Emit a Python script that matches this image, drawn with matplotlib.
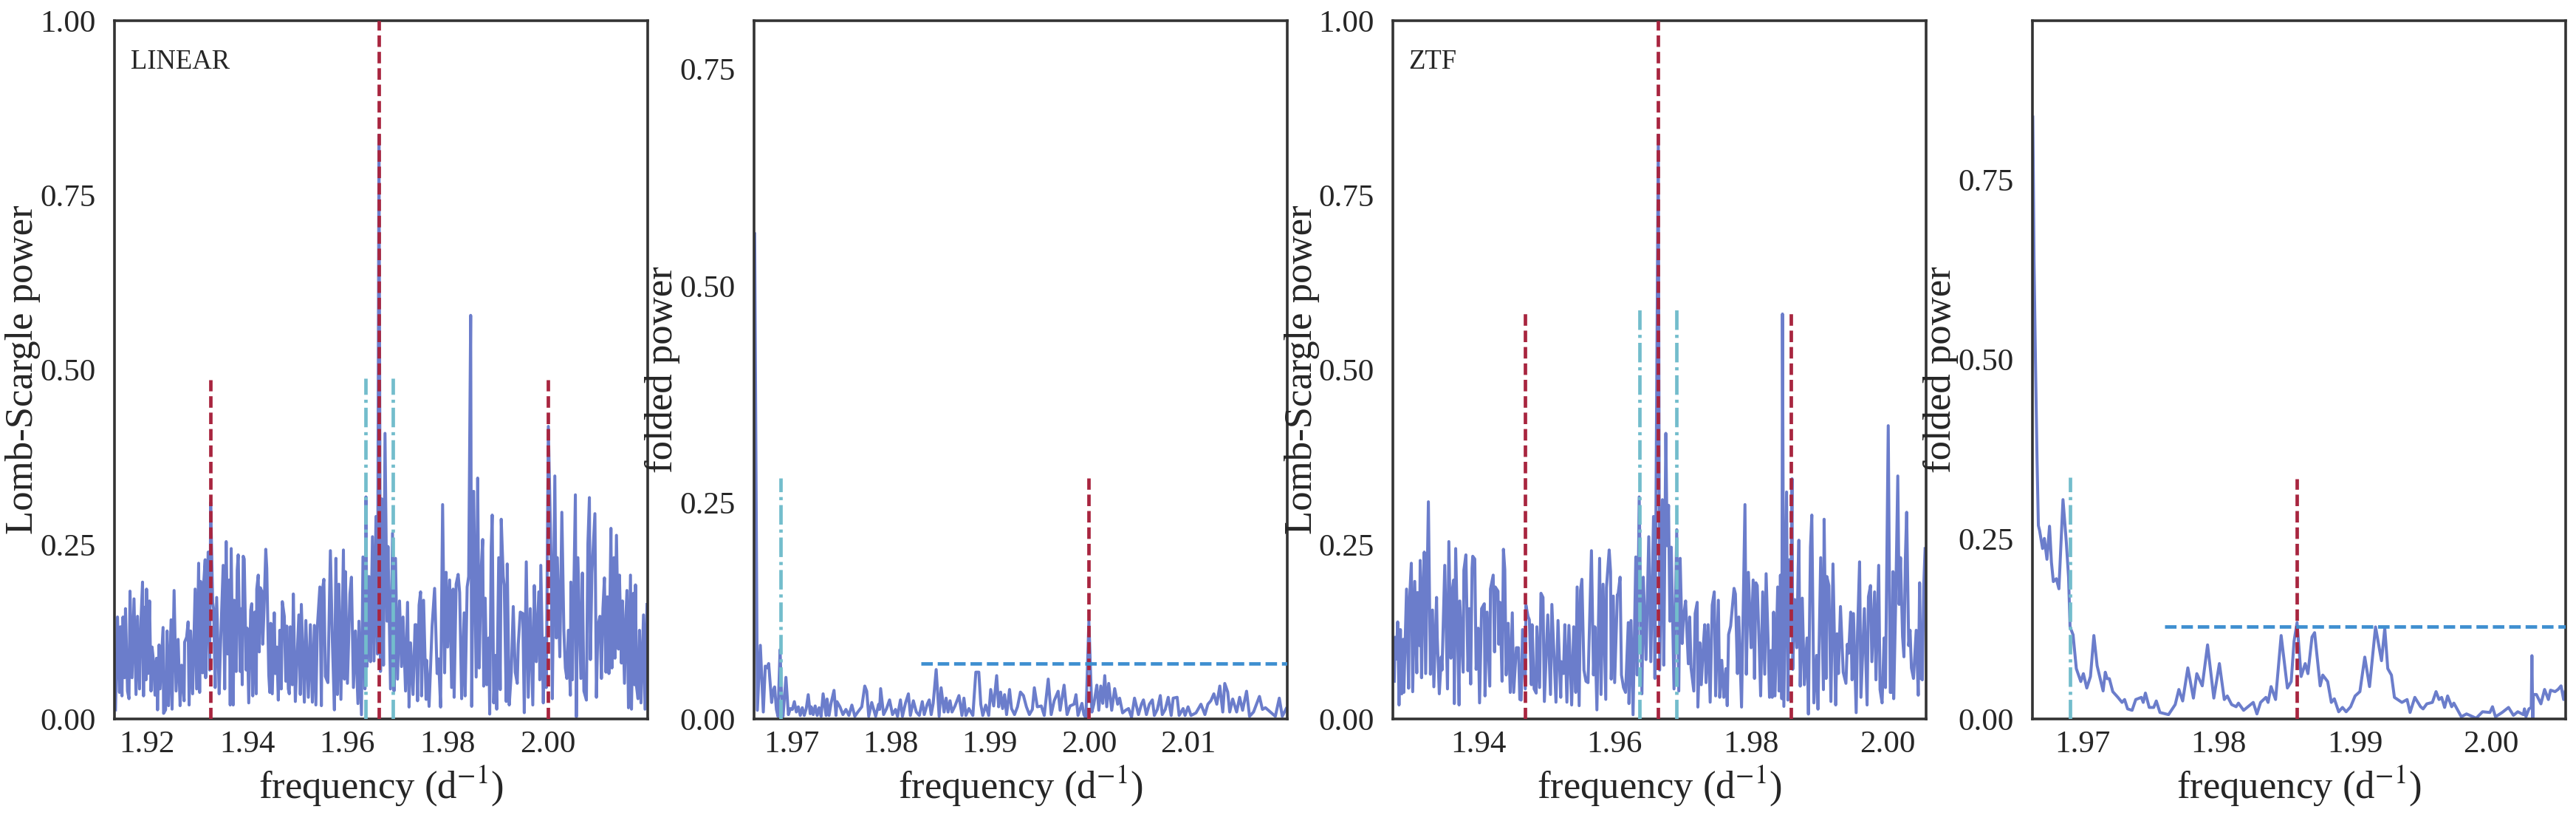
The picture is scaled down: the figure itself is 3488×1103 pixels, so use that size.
import matplotlib
matplotlib.use("Agg")
import matplotlib.pyplot as plt

plt.rcParams["font.family"] = ["Liberation Serif", "DejaVu Serif"]
plt.rcParams["mathtext.fontset"] = "stix"

# values
linear_ls_freq = [
    1.9137, 1.9141, 1.9145, 1.9147, 1.9150, 1.9152, 1.9155, 1.9157, 1.9161, 1.9164, 1.9166, 1.9170, 1.9174, 1.9178, 1.9181,
    1.9185, 1.9188, 1.9191, 1.9193, 1.9195, 1.9198, 1.9199, 1.9202, 1.9205, 1.9208, 1.9210, 1.9213, 1.9216, 1.9219, 1.9221,
    1.9224, 1.9226, 1.9232, 1.9233, 1.9237, 1.9240, 1.9243, 1.9248, 1.9250, 1.9254, 1.9258, 1.9262, 1.9266, 1.9269, 1.9274,
    1.9275, 1.9279, 1.9282, 1.9284, 1.9287, 1.9291, 1.9296, 1.9299, 1.9303, 1.9305, 1.9307, 1.9311, 1.9312, 1.9316, 1.9317,
    1.9322, 1.9325, 1.9327, 1.9331, 1.9333, 1.9336, 1.9339, 1.9344, 1.9346, 1.9352, 1.9355, 1.9358, 1.9361, 1.9364, 1.9366,
    1.9368, 1.9372, 1.9374, 1.9378, 1.9380, 1.9382, 1.9386, 1.9388, 1.9390, 1.9392, 1.9394, 1.9398, 1.9400, 1.9403, 1.9407,
    1.9409, 1.9411, 1.9415, 1.9418, 1.9419, 1.9422, 1.9424, 1.9426, 1.9429, 1.9431, 1.9434, 1.9437, 1.9439, 1.9443, 1.9445,
    1.9447, 1.9450, 1.9454, 1.9456, 1.9459, 1.9462, 1.9465, 1.9468, 1.9470, 1.9474, 1.9477, 1.9479, 1.9482, 1.9484, 1.9486,
    1.9490, 1.9492, 1.9496, 1.9503, 1.9506, 1.9508, 1.9514, 1.9517, 1.9522, 1.9526, 1.9530, 1.9534, 1.9537, 1.9540, 1.9545,
    1.9548, 1.9550, 1.9553, 1.9556, 1.9561, 1.9566, 1.9570, 1.9574, 1.9577, 1.9580, 1.9583, 1.9587, 1.9592, 1.9594, 1.9596,
    1.9600, 1.9605, 1.9608, 1.9612, 1.9616, 1.9621, 1.9623, 1.9628, 1.9631, 1.9635, 1.9637, 1.9639, 1.9643, 1.9646, 1.9650,
    1.9653, 1.9657, 1.9660, 1.9663, 1.9666, 1.9669, 1.9672, 1.9675, 1.9679, 1.9681, 1.9686, 1.9690, 1.9693, 1.9696, 1.9700,
    1.9704, 1.9708, 1.9711, 1.9716, 1.9720, 1.9723, 1.9726, 1.9731, 1.9735, 1.9737, 1.9740, 1.9743, 1.9746, 1.9748, 1.9752,
    1.9757, 1.9758, 1.9763, 1.9769, 1.9774, 1.9779, 1.9782, 1.9786, 1.9790, 1.9794, 1.9797, 1.9800, 1.9804, 1.9808, 1.9811,
    1.9813, 1.9817, 1.9821, 1.9824, 1.9828, 1.9833, 1.9835, 1.9839, 1.9842, 1.9846, 1.9848, 1.9852, 1.9857, 1.9860, 1.9863,
    1.9867, 1.9870, 1.9872, 1.9875, 1.9878, 1.9882, 1.9884, 1.9887, 1.9889, 1.9892, 1.9895, 1.9898, 1.9902, 1.9905, 1.9907,
    1.9911, 1.9913, 1.9917, 1.9919, 1.9923, 1.9927, 1.9931, 1.9935, 1.9939, 1.9941, 1.9945, 1.9950, 1.9953, 1.9957, 1.9961,
    1.9965, 1.9970, 1.9973, 1.9977, 1.9982, 1.9984, 1.9986, 1.9991, 1.9994, 1.9997, 2.0001, 2.0007, 2.0009, 2.0014, 2.0017,
    2.0019, 2.0024, 2.0028, 2.0032, 2.0035, 2.0038, 2.0041, 2.0045, 2.0046, 2.0049, 2.0055, 2.0057, 2.0060, 2.0066, 2.0069,
    2.0072, 2.0077, 2.0080, 2.0083, 2.0085, 2.0088, 2.0094, 2.0097, 2.0100, 2.0104, 2.0107, 2.0110, 2.0113, 2.0116, 2.0119,
    2.0122, 2.0126, 2.0128, 2.0132, 2.0134, 2.0137, 2.0141, 2.0143, 2.0147, 2.0149, 2.0153, 2.0156, 2.0158, 2.0161, 2.0165,
    2.0167, 2.0171, 2.0173, 2.0175, 2.0177, 2.0180, 2.0183, 2.0186, 2.0191, 2.0194, 2.0198,
]
linear_ls_power = [
    .013, .146, .038, .132, .033, .146, .059, .158, .040, .029, .183, .059, .172, .035, .147,
    .043, .142, .196, .033, .160, .056, .186, .065, .169, .040, .103, .082, .034, .087, .013,
    .106, .043, .131, .008, .013, .126, .019, .142, .014, .184, .040, .114, .019, .077, .026,
    .110, .117, .139, .020, .126, .036, .186, .043, .223, .038, .197, .066, .181, .228, .059,
    .239, .070, .310, .167, .157, .045, .174, .036, .091, .220, .043, .254, .093, .199, .020,
    .244, .020, .170, .068, .213, .235, .068, .158, .049, .233, .229, .070, .130, .023, .156,
    .165, .033, .153, .036, .186, .206, .096, .188, .183, .107, .167, .243, .216, .063, .038,
    .137, .036, .152, .065, .103, .027, .127, .043, .168, .147, .054, .133, .043, .036, .132,
    .049, .179, .025, .149, .035, .164, .024, .141, .031, .135, .024, .134, .020, .132, .189,
    .019, .184, .200, .061, .052, .241, .110, .013, .230, .035, .193, .028, .242, .057, .211,
    .051, .179, .203, .045, .126, .022, .140, .006, .232, .043, .318, .075, .204, .082, .261,
    .083, .290, .093, .836, .068, .315, .077, .409, .140, .247, .043, .266, .040, .230, .057,
    .169, .075, .146, .040, .167, .017, .109, .035, .135, .135, .026, .163, .182, .033, .170,
    .028, .084, .018, .133, .187, .065, .086, .017, .307, .066, .210, .103, .199, .045, .186,
    .031, .193, .207, .181, .029, .152, .033, .189, .204, .578, .018, .326, .060, .345, .073,
    .215, .257, .047, .173, .049, .116, .007, .246, .292, .023, .091, .014, .231, .042, .286,
    .204, .191, .025, .222, .020, .065, .161, .067, .051, .107, .153, .151, .009, .225, .031,
    .158, .020, .191, .082, .182, .056, .220, .023, .116, .045, .419, .211, .029, .348, .116,
    .231, .089, .296, .127, .073, .058, .127, .034, .196, .056, .321, .003, .231, .058, .209,
    .040, .027, .251, .317, .085, .209, .294, .031, .133, .147, .058, .158, .202, .067, .175,
    .065, .273, .073, .231, .087, .263, .100, .206, .080, .169, .051, .149, .184, .016, .206,
    .014, .180, .049, .192, .047, .029, .127, .023, .149, .014, .164,
]

linear_fold_freq = [
    1.9663, 1.96657, 1.96687, 1.96717, 1.96737, 1.96755, 1.96771, 1.96801, 1.96815, 1.96831, 1.96849, 1.96865, 1.96886, 1.96901, 1.96916,
    1.96945, 1.9697, 1.9699, 1.9701, 1.9703, 1.9705, 1.9707, 1.9709, 1.9711, 1.9713, 1.9715, 1.9717, 1.9719, 1.9720,
    1.9722, 1.9724, 1.9726, 1.9728, 1.9730, 1.9732, 1.9735, 1.9736, 1.9738, 1.9740, 1.9743, 1.9745, 1.9746, 1.9749, 1.9752,
    1.9755, 1.9758, 1.9761, 1.9764, 1.9767, 1.9771, 1.9774, 1.9776, 1.9778, 1.9781, 1.9785, 1.9788, 1.9789, 1.9790, 1.9793,
    1.9796, 1.9799, 1.9802, 1.9805, 1.9807, 1.9810, 1.9812, 1.9815, 1.9818, 1.9820, 1.9823, 1.9826, 1.9829, 1.9832, 1.9834,
    1.9837, 1.9839, 1.9841, 1.9843, 1.9846, 1.9849, 1.9851, 1.9854, 1.9856, 1.9858, 1.9860, 1.9862, 1.9865, 1.9869, 1.9872,
    1.9874, 1.9876, 1.9879, 1.9883, 1.9886, 1.9889, 1.9891, 1.9893, 1.9896, 1.9899, 1.9901, 1.9904, 1.9907, 1.9909, 1.9911,
    1.9913, 1.9915, 1.9917, 1.9920, 1.9922, 1.9925, 1.9928, 1.9931, 1.9934, 1.9937, 1.9940, 1.9943, 1.9945, 1.9948, 1.9952,
    1.9955, 1.9959, 1.9962, 1.9965, 1.9969, 1.9971, 1.9975, 1.9978, 1.9981, 1.9985, 1.9987, 1.9989, 1.9993, 1.9995, 1.9997,
    2.0000, 2.0003, 2.0005, 2.0008, 2.0010, 2.0012, 2.0014, 2.0016, 2.0018, 2.0020, 2.0023, 2.0026, 2.0029, 2.0031, 2.0034,
    2.0037, 2.0040, 2.0043, 2.0046, 2.0050, 2.0053, 2.0055, 2.0058, 2.0061, 2.0064, 2.0066, 2.0069, 2.0072, 2.0074, 2.0077,
    2.0080, 2.0083, 2.0085, 2.0089, 2.0091, 2.0095, 2.0097, 2.0100, 2.0103, 2.0108, 2.0113, 2.0117, 2.0120, 2.0123, 2.0126,
    2.0129, 2.0132, 2.0135, 2.0137, 2.0140, 2.0142, 2.0145, 2.0149, 2.0152, 2.0155, 2.0159, 2.0162, 2.0166, 2.0172, 2.0175,
    2.0178, 2.0183, 2.0188, 2.0192, 2.0195, 2.0199,
]
linear_fold_power = [
    .56, .010, .085, .008, .061, .059, .064, .019, .032, .037, .011, .003, .080, .027, .003,
    .048, .005, .012, .011, .020, .008, .014, .004, .013, .004, .012, .028, .006, .014,
    .005, .015, .004, .013, .003, .029, .004, .023, .004, .018, .033, .004, .020, .014, .005,
    .011, .004, .016, .003, .008, .014, .038, .032, .003, .019, .003, .017, .011, .035, .005,
    .012, .022, .005, .011, .003, .022, .003, .018, .029, .004, .021, .008, .004, .020, .005,
    .017, .022, .005, .018, .057, .003, .036, .008, .024, .008, .021, .008, .015, .027, .004,
    .024, .004, .012, .004, .054, .054, .017, .004, .016, .004, .034, .015, .050, .014, .031,
    .012, .028, .005, .034, .012, .005, .014, .031, .027, .014, .005, .011, .036, .014, .015,
    .004, .046, .005, .021, .032, .010, .039, .005, .015, .017, .028, .004, .018, .005, .001,
    .113, .008, .017, .039, .010, .038, .018, .050, .014, .041, .010, .035, .017, .024, .007,
    .010, .012, .002, .024, .005, .017, .022, .005, .017, .022, .004, .011, .027, .005, .011,
    .025, .004, .024, .025, .004, .012, .004, .014, .004, .007, .017, .005, .017, .021, .029,
    .017, .038, .008, .041, .031, .008, .023, .008, .025, .010, .032, .003, .008, .026, .011,
    .013, .008, .003, .024, .003, .012,
]

ztf_ls_freq = [
    1.9277, 1.9278, 1.9280, 1.9282, 1.9284, 1.9286, 1.9288, 1.9290, 1.9291, 1.9295, 1.9298, 1.9299, 1.9302, 1.9304, 1.9307,
    1.9310, 1.9311, 1.9314, 1.9315, 1.9317, 1.9319, 1.9321, 1.9323, 1.9327, 1.9330, 1.9333, 1.9335, 1.9339, 1.9340, 1.9343,
    1.9346, 1.9347, 1.9351, 1.9355, 1.9357, 1.9360, 1.9362, 1.9364, 1.9365, 1.9367, 1.9372, 1.9373, 1.9378, 1.9379, 1.9382,
    1.9385, 1.9387, 1.9389, 1.9391, 1.9392, 1.9395, 1.9397, 1.9400, 1.9402, 1.9405, 1.9409, 1.9410, 1.9413, 1.9417, 1.9418,
    1.9422, 1.9424, 1.9425, 1.9429, 1.9430, 1.9432, 1.9435, 1.9437, 1.9439, 1.9441, 1.9444, 1.9447, 1.9450, 1.9452, 1.9456,
    1.9459, 1.9461, 1.9463, 1.9465, 1.9469, 1.9470, 1.9473, 1.9475, 1.9478, 1.9479, 1.9482, 1.9485, 1.9486, 1.9490, 1.9492,
    1.9495, 1.9497, 1.9502, 1.9506, 1.9508, 1.9514, 1.9517, 1.9521, 1.9522, 1.9525, 1.9527, 1.9530, 1.9533, 1.9537,
    1.9540, 1.9543, 1.9545, 1.9548, 1.9550, 1.9552, 1.9555, 1.9558, 1.9561, 1.9566, 1.9569, 1.9571, 1.9574, 1.9578, 1.9580,
    1.9583, 1.9587, 1.9588, 1.9592, 1.9594, 1.9595, 1.9598, 1.9600, 1.9604, 1.9605, 1.9608, 1.9610, 1.9613, 1.9616, 1.9620,
    1.9621, 1.9624, 1.9627, 1.9631, 1.9633, 1.9636, 1.9640, 1.9642, 1.9646, 1.9650, 1.9653, 1.9657, 1.9659, 1.9664, 1.9666,
    1.9670, 1.9672, 1.9675, 1.9677, 1.9679, 1.9681, 1.9683, 1.9687, 1.9691, 1.9694, 1.9696, 1.9699, 1.9701, 1.9704, 1.9708,
    1.9710, 1.9712, 1.9716, 1.9718, 1.9721, 1.9722, 1.9725, 1.9727, 1.9730, 1.9732, 1.9734, 1.9737, 1.9740, 1.9743, 1.9746,
    1.9748, 1.9752, 1.9754, 1.9757, 1.9760, 1.9763, 1.9765, 1.9767, 1.9770, 1.9775, 1.9777, 1.9780, 1.9782, 1.9784, 1.9786,
    1.9791, 1.9793, 1.9796, 1.9800, 1.9803, 1.9805, 1.9807, 1.9809, 1.9812, 1.9814, 1.9817, 1.9820, 1.9822, 1.9825, 1.9827,
    1.9829, 1.9831, 1.9833, 1.9835, 1.9839, 1.9841, 1.9843, 1.9845, 1.9846, 1.9848, 1.9852, 1.9854, 1.9856, 1.9858, 1.9860,
    1.9861, 1.9864, 1.9867, 1.9869, 1.9870, 1.9872, 1.9875, 1.9878, 1.9882, 1.9884, 1.9887, 1.9889, 1.9892, 1.9896, 1.9898,
    1.9902, 1.9906, 1.9907, 1.9910, 1.9911, 1.9914, 1.9917, 1.9920, 1.9924, 1.9926, 1.9928, 1.9931, 1.9935, 1.9939, 1.9941,
    1.9943, 1.9946, 1.9948, 1.9950, 1.9954, 1.9956, 1.9959, 1.9961, 1.9966, 1.9970, 1.9972, 1.9975, 1.9977, 1.9981, 1.9983,
    1.9987, 1.9989, 1.9992, 1.9995, 1.9997, 2.0001, 2.0004, 2.0006, 2.0008, 2.0009, 2.0012, 2.0015, 2.0017, 2.0019, 2.0022,
    2.0024, 2.0026, 2.0028, 2.0031, 2.0033, 2.0035, 2.0038, 2.0042, 2.0045, 2.0047, 2.0049, 2.0051, 2.0053, 2.0055,
]
ztf_ls_power = [
    .054, .117, .086, .139, .020, .128, .036, .114, .038, .186, .044, .162, .223, .039, .197,
    .066, .181, .105, .227, .059, .184, .239, .065, .311, .064, .156, .046, .174, .117, .036,
    .089, .070, .220, .043, .254, .087, .184, .199, .022, .244, .020, .169, .067, .213, .235,
    .069, .158, .050, .216, .233, .229, .071, .130, .023, .158, .165, .033, .153, .047, .186,
    .206, .096, .189, .183, .107, .167, .054, .243, .214, .063, .137, .038, .152, .038, .102,
    .102, .028, .027, .128, .043, .163, .147, .142, .049, .135, .043, .037, .132, .045, .180,
    .174, .025, .149, .035, .164, .024, .141, .031, .082, .065, .135, .024, .134, .020,
    .132, .038, .189, .019, .184, .200, .070, .054, .052, .241, .063, .132, .013, .230, .035,
    .193, .028, .188, .242, .211, .057, .176, .052, .178, .178, .203, .063, .045, .038, .138,
    .022, .141, .006, .232, .063, .318, .036, .203, .085, .261, .082, .290, .058, .836, .070,
    .314, .077, .409, .248, .306, .140, .246, .043, .271, .040, .230, .108, .146, .169, .079,
    .146, .073, .040, .151, .167, .017, .109, .049, .105, .135, .052, .135, .024, .163, .182,
    .033, .170, .031, .084, .031, .072, .019, .121, .133, .187, .179, .065, .146, .082, .017,
    .307, .064, .210, .102, .199, .058, .195, .191, .102, .033, .182, .064, .208, .109, .031,
    .098, .031, .153, .033, .189, .040, .206, .029, .580, .018, .325, .027, .228, .124, .344,
    .071, .171, .102, .217, .256, .047, .173, .049, .116, .007, .246, .292, .023, .091, .014,
    .231, .042, .286, .058, .204, .191, .025, .222, .020, .122, .065, .161, .067, .051, .107,
    .094, .153, .056, .151, .009, .124, .225, .031, .158, .020, .175, .191, .082, .182, .056,
    .220, .042, .023, .116, .045, .420, .038, .038, .211, .029, .171, .348, .164, .231, .118,
    .089, .226, .296, .105, .127, .073, .058, .127, .034, .195, .058, .056, .189, .244,
]

ztf_fold_freq = [
    1.96632, 1.96641, 1.96652, 1.96663, 1.96673, 1.96682, 1.96704, 1.96717, 1.96736, 1.96755, 1.96769, 1.96783, 1.96805, 1.96824, 1.96854,
    1.96878, 1.96895, 1.96906, 1.96928, 1.96952, 1.96985, 1.97004, 1.97029, 1.97056, 1.97081, 1.97105, 1.97149, 1.97165, 1.97179, 1.97195,
    1.97220, 1.97258, 1.97288, 1.97307, 1.97329, 1.97362, 1.97389, 1.97430, 1.97444, 1.97460, 1.97488, 1.97521, 1.97540, 1.97567, 1.97630,
    1.97679, 1.97706, 1.97734, 1.97772, 1.97813, 1.97838, 1.97878, 1.97917, 1.97963, 1.98004, 1.98040, 1.98062, 1.98094, 1.98127, 1.98144,
    1.98182, 1.98253, 1.98280, 1.98307, 1.98346, 1.98362, 1.98384, 1.98417, 1.98458, 1.98504, 1.98532, 1.98553, 1.98575, 1.98605, 1.98635,
    1.98655, 1.98685, 1.98704, 1.98745, 1.98764, 1.98800, 1.98827, 1.98849, 1.98881, 1.98909, 1.98936, 1.98969, 1.99002, 1.99037, 1.99073,
    1.99108, 1.99152, 1.99196, 1.99220, 1.99242, 1.99269, 1.99291, 1.99346, 1.99384, 1.99406, 1.99441, 1.99483, 1.99502, 1.99529, 1.99570,
    1.99597, 1.99619, 1.99638, 1.99660, 1.99682, 1.99712, 1.99728, 1.99783, 1.99821, 1.99892, 1.99939, 1.99993, 2.00012, 2.00034, 2.00083,
    2.00130, 2.00166, 2.00198, 2.00239, 2.00247, 2.00258, 2.00280, 2.00297, 2.00302, 2.00308, 2.00313, 2.00335, 2.00368, 2.00395, 2.00423,
    2.00439, 2.00472, 2.00494, 2.00516, 2.00535, 2.00546,
]
ztf_fold_power = [
    .837, .638, .493, .363, .269, .262, .237, .251, .222, .268, .218, .191, .195, .181, .305,
    .247, .197, .128, .117, .070, .052, .063, .043, .059, .116, .074, .039, .065, .056, .056,
    .038, .030, .023, .027, .014, .012, .027, .030, .023, .036, .016, .016, .025, .009, .006,
    .020, .041, .025, .071, .029, .063, .046, .103, .029, .077, .027, .032, .020, .017, .022,
    .012, .023, .007, .023, .030, .023, .045, .027, .116, .043, .052, .108, .134, .059, .077,
    .063, .114, .120, .046, .061, .052, .023, .028, .010, .016, .010, .017, .032, .038, .086,
    .045, .128, .081, .126, .070, .061, .030, .023, .027, .009, .030, .017, .014, .021, .023,
    .038, .027, .030, .016, .032, .017, .022, .003, .007, .001, .010, .009, .017, .003, .009,
    .016, .005, .010, .006, .014, .003, .014, .016, .088, .000, .034, .034, .021, .041, .027,
    .040, .038, .041, .046, .027, .038,
]

x_ranges = [(1.9135, 2.0200), (1.9662, 2.0200), (1.9275, 2.0057), (1.96627, 2.0055)]
y_tops = [1.0, 0.806, 1.0, 0.971]
x_ticks = [[1.92, 1.94, 1.96, 1.98, 2.00], [1.97, 1.98, 1.99, 2.00, 2.01], [1.94, 1.96, 1.98, 2.00], [1.97, 1.98, 1.99, 2.00]]
y_ticks = [[0, .25, .5, .75, 1.0], [0, .25, .5, .75], [0, .25, .5, .75, 1.0], [0, .25, .5, .75]]
y_labels = ["Lomb-Scargle power", "folded power", "Lomb-Scargle power", "folded power"]
survey_names = ["LINEAR", None, "ZTF", None]

freqs = [linear_ls_freq, linear_fold_freq, ztf_ls_freq, ztf_fold_freq]
powers = [linear_ls_power, linear_fold_power, ztf_ls_power, ztf_fold_power]

# (frequency, top of the line) for each marker
red_lines = [
    [(1.9663, 1.0), (1.9326, 0.486), (2.0000, 0.486)],
    [(2.0000, 0.278)],
    [(1.9664, 1.0), (1.9469, 0.586), (1.9858, 0.586)],
    [(1.98575, 0.334)],
]
cyan_lines = [
    [(1.96365, 0.488), (1.9691, 0.488)],
    [(1.96894, 0.278)],
    [(1.9636, 0.587), (1.9691, 0.587)],
    [(1.96906, 0.336)],
]
# (start frequency, level) of the blue threshold
thresholds = [None, (1.98306, 0.064), None, (1.97603, 0.128)]

BLUE = "#6b7dcb"
RED = "#a8253f"
CYAN = "#73bdcc"
THRESH = "#3e8fd0"
INK = "#262626"

fig, axes = plt.subplots(1, 4, figsize=(17.44, 5.515), dpi=200)
fig.subplots_adjust(left=155 / 3488, right=3474 / 3488, top=1 - 28 / 1103, bottom=1 - 973 / 1103, wspace=143 / 722)

for i, ax in enumerate(axes):
    ax.plot(freqs[i], powers[i], color=BLUE, lw=1.45, zorder=2)
    for f, top in cyan_lines[i]:
        ax.plot([f, f], [0, top], color=CYAN, lw=1.7, ls=(0, (5.6, 1.4, 0.9, 1.4)), zorder=3)
    for f, top in red_lines[i]:
        ax.plot([f, f], [0, top], color=RED, lw=1.7, ls=(0, (3.3, 1.4)), zorder=4)
    if thresholds[i] is not None:
        start, level = thresholds[i]
        ax.plot([start, x_ranges[i][1]], [level, level], color=THRESH, lw=1.7, ls=(0, (3.3, 1.4)), zorder=5)

    ax.set_xlim(*x_ranges[i])
    ax.set_ylim(0, y_tops[i])
    ax.set_xticks(x_ticks[i])
    ax.set_xticklabels(["%.2f" % t for t in x_ticks[i]])
    ax.set_yticks(y_ticks[i])
    ax.set_yticklabels(["%.2f" % t for t in y_ticks[i]])
    ax.tick_params(axis="x", length=0, labelsize=15.5, labelcolor=INK, pad=5.5)
    ax.tick_params(axis="y", length=0, labelsize=15.5, labelcolor=INK, pad=9)
    ax.set_xlabel("frequency (d$^{-1}$)", fontsize=19, color=INK, va="center")
    ax.set_ylabel(y_labels[i], fontsize=19, color=INK, va="center")
    ax.xaxis.set_label_coords(0.5, -0.095)
    ax.yaxis.set_label_coords(-0.171, 0.5)
    for spine in ax.spines.values():
        spine.set_color("#333333")
        spine.set_linewidth(1.3)
    if survey_names[i]:
        ax.text(0.03, 0.941, survey_names[i], transform=ax.transAxes, fontsize=13.2, color=INK, va="center")

fig.savefig("out.png", dpi=200)
